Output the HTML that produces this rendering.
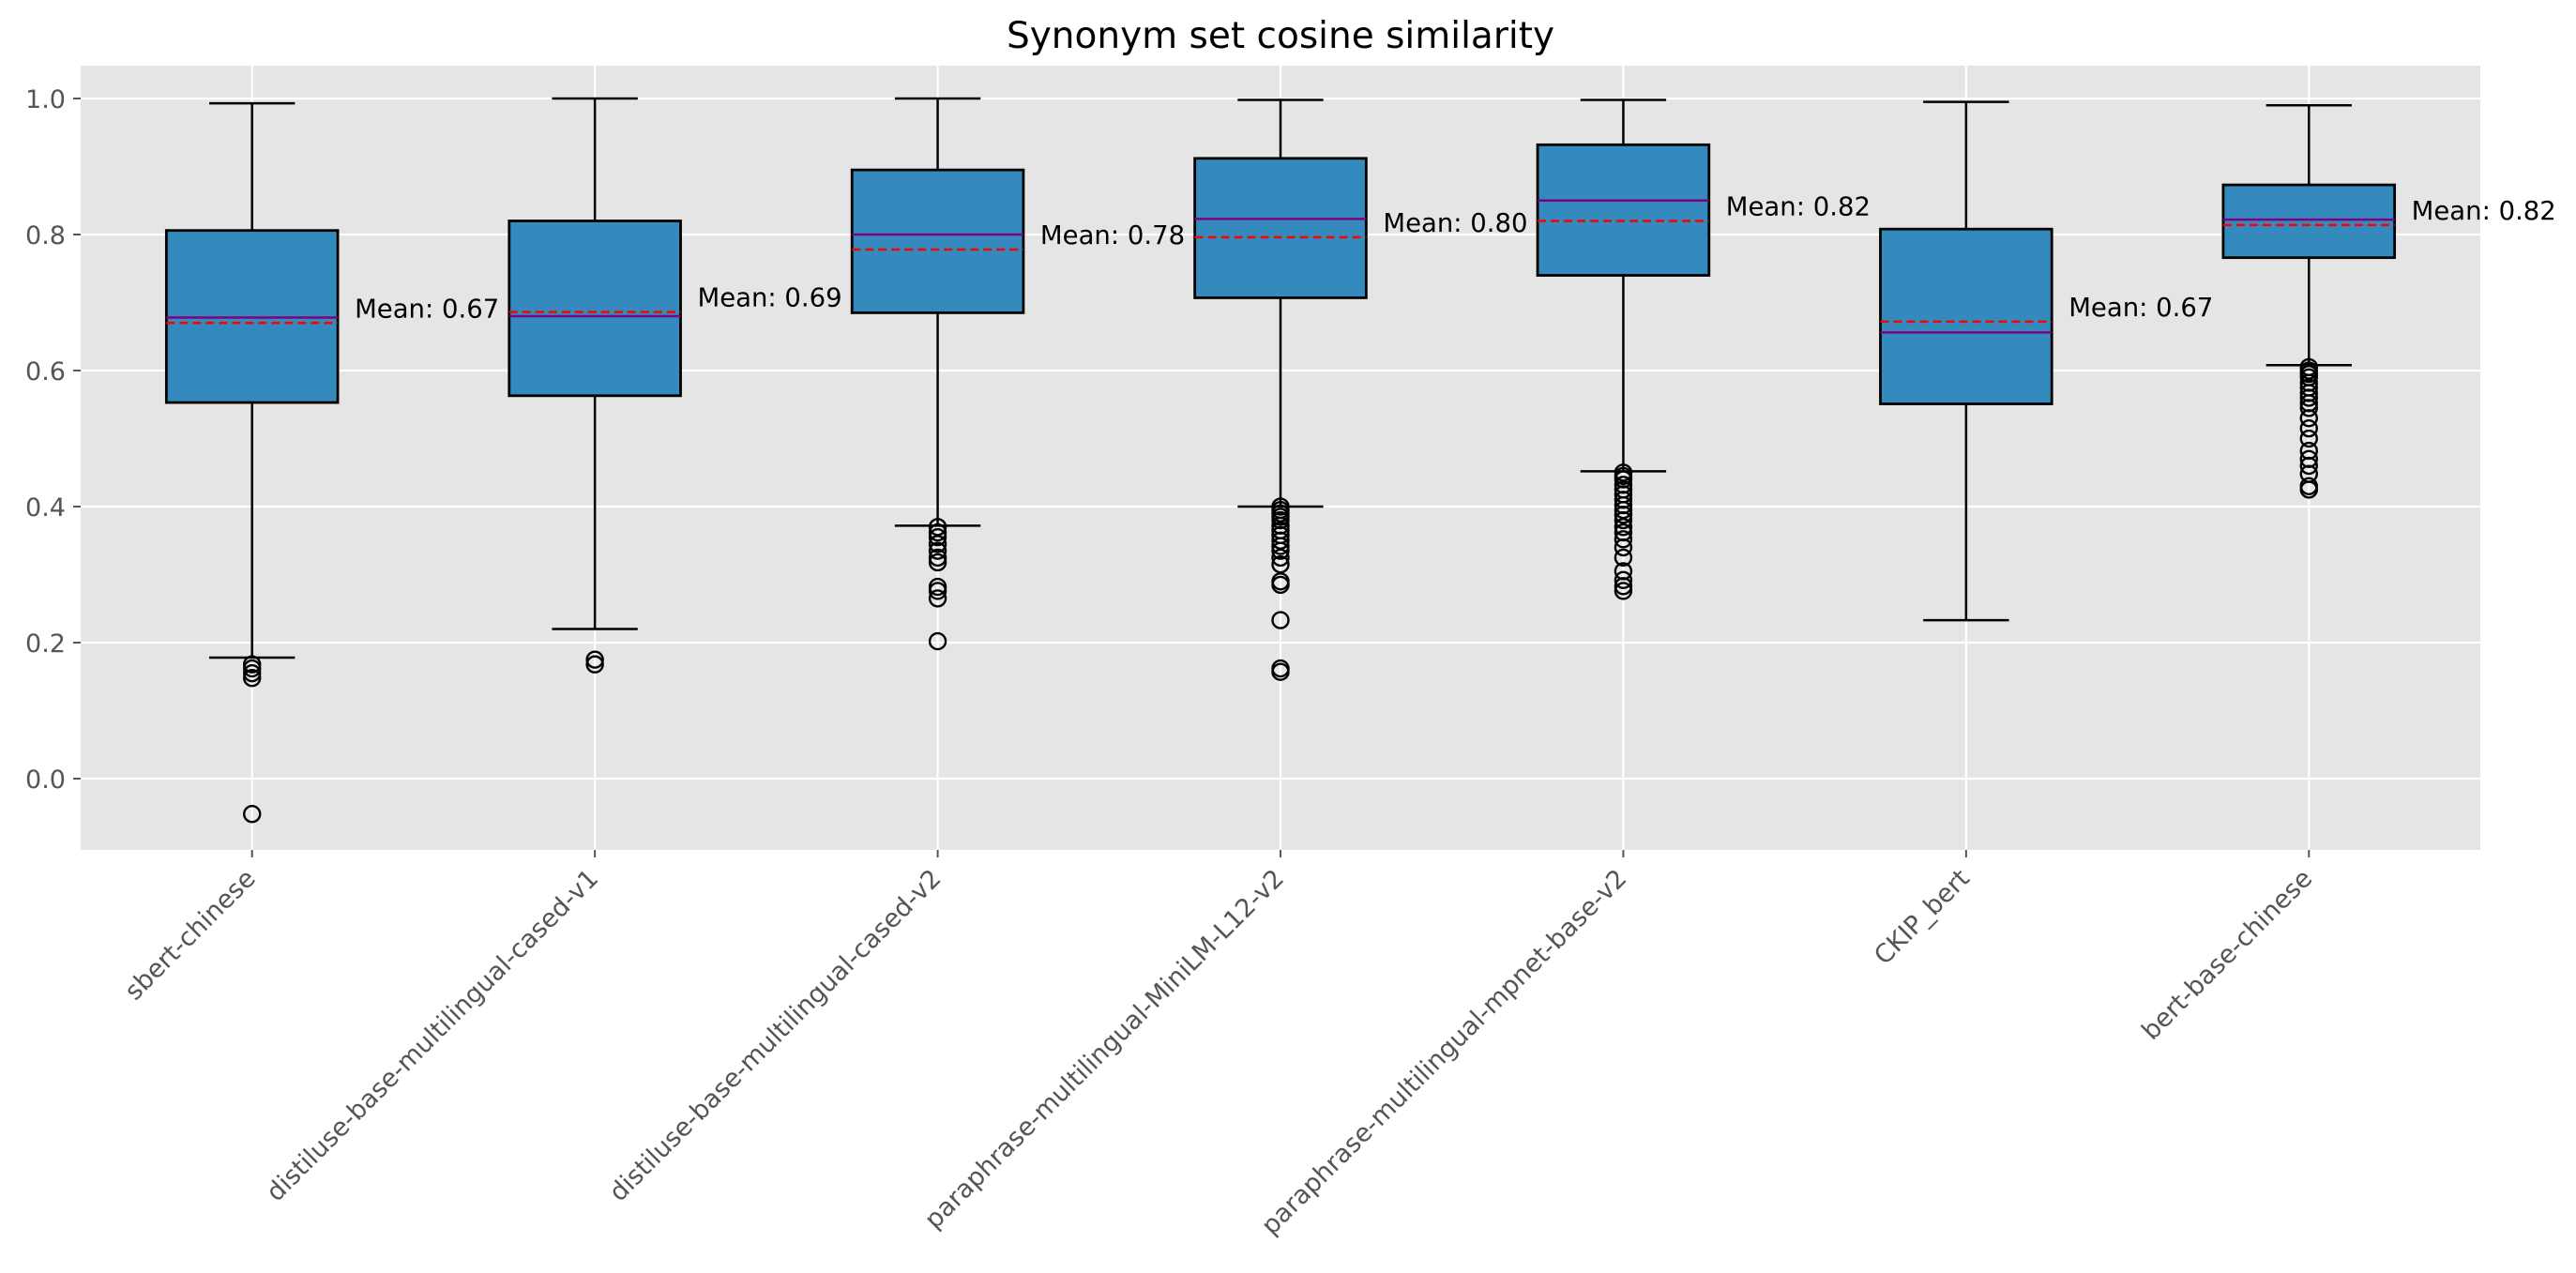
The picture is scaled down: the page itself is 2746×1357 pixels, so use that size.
<!DOCTYPE html>
<html><head><meta charset="utf-8"><style>
html,body{margin:0;padding:0;background:#fff;}
svg{display:block;font-family:"DejaVu Sans","Liberation Sans",sans-serif;}
</style></head><body>
<svg id="chart" width="2746" height="1357" viewBox="0 0 2746 1357" xmlns="http://www.w3.org/2000/svg">
<text x="1365" y="51" font-size="39" text-anchor="middle" fill="#000">Synonym set cosine similarity</text>
<g id="plot"></g>
</svg>
<script>
const categories = ["sbert-chinese","distiluse-base-multilingual-cased-v1","distiluse-base-multilingual-cased-v2","paraphrase-multilingual-MiniLM-L12-v2","paraphrase-multilingual-mpnet-base-v2","CKIP_bert","bert-base-chinese"];
const whiskerLow = [0.178,0.220,0.372,0.400,0.452,0.233,0.608];
const q1 = [0.553,0.563,0.685,0.707,0.740,0.551,0.766];
const medians = [0.678,0.680,0.800,0.823,0.850,0.656,0.822];
const means = [0.670,0.686,0.778,0.796,0.820,0.672,0.814];
const q3 = [0.806,0.820,0.895,0.912,0.932,0.808,0.873];
const whiskerHigh = [0.993,1.000,1.000,0.998,0.998,0.995,0.990];
const meanLabels = ["Mean: 0.67","Mean: 0.69","Mean: 0.78","Mean: 0.80","Mean: 0.82","Mean: 0.67","Mean: 0.82"];
const fliers = [
 [0.168,0.162,0.155,0.148,-0.052],
 [0.175,0.168],
 [0.370,0.362,0.355,0.345,0.335,0.325,0.318,0.282,0.276,0.265,0.202],
 [0.400,0.395,0.390,0.385,0.380,0.372,0.365,0.358,0.350,0.342,0.335,0.325,0.315,0.290,0.285,0.233,0.162,0.157],
 [0.450,0.445,0.440,0.432,0.425,0.418,0.410,0.402,0.395,0.388,0.380,0.370,0.362,0.352,0.340,0.325,0.305,0.292,0.283,0.276],
 [],
 [0.605,0.600,0.595,0.590,0.582,0.575,0.567,0.560,0.552,0.545,0.530,0.515,0.500,0.482,0.470,0.460,0.448,0.430,0.425]
];
const yTicks = [0.0,0.2,0.4,0.6,0.8,1.0];
const yTickLabels = ["0.0","0.2","0.4","0.6","0.8","1.0"];

const L=86,R=2644,T=70,B=906;
const yMin=-0.1048,yMax=1.0483;
const xs=i=>L+(i+0.5)*(R-L)/categories.length;
const ys=v=>B-(v-yMin)/(yMax-yMin)*(B-T);
const NS="http://www.w3.org/2000/svg";
const plot=document.getElementById('plot');
function mk(tag,attrs,parent){const e=document.createElementNS(NS,tag);for(const k in attrs)e.setAttribute(k,attrs[k]);(parent||plot).appendChild(e);return e;}

const bg=mk('rect',{x:L,y:T,width:R-L,height:B-T,fill:'#e5e5e5'});


const grid=mk('g',{});


yTicks.forEach((v,i)=>{
 mk('line',{x1:L,x2:R,y1:ys(v),y2:ys(v),stroke:'#fff','stroke-width':2.2},grid);
 mk('line',{x1:L-8,x2:L,y1:ys(v),y2:ys(v),stroke:'#555','stroke-width':2},grid);
 const t=mk('text',{x:L-16,y:ys(v)+10,'font-size':27,'text-anchor':'end',fill:'#555'});
 t.textContent=yTickLabels[i];
 
 
});
categories.forEach((c,i)=>{
 const x=xs(i);
 mk('line',{x1:x,x2:x,y1:T,y2:B,stroke:'#fff','stroke-width':2.2},grid);
 mk('line',{x1:x,x2:x,y1:B,y2:B+8,stroke:'#555','stroke-width':2},grid);
 const t=mk('text',{x:x+5,y:B+32,'font-size':27,'text-anchor':'end',fill:'#555',transform:`rotate(-45 ${x+5} ${B+32})`});
 t.textContent=c;
 
 
});
const hw=(R-L)/categories.length*0.25;
categories.forEach((c,i)=>{
 const x=xs(i);
 const g=mk('g',{});
 
 
 mk('line',{x1:x,x2:x,y1:ys(whiskerLow[i]),y2:ys(q1[i]),stroke:'#000','stroke-width':2.5},g);
 mk('line',{x1:x,x2:x,y1:ys(q3[i]),y2:ys(whiskerHigh[i]),stroke:'#000','stroke-width':2.5},g);
 mk('line',{x1:x-hw/2,x2:x+hw/2,y1:ys(whiskerLow[i]),y2:ys(whiskerLow[i]),stroke:'#000','stroke-width':2.5},g);
 mk('line',{x1:x-hw/2,x2:x+hw/2,y1:ys(whiskerHigh[i]),y2:ys(whiskerHigh[i]),stroke:'#000','stroke-width':2.5},g);
 mk('rect',{x:x-hw,y:ys(q3[i]),width:2*hw,height:ys(q1[i])-ys(q3[i]),fill:'#348abd',stroke:'#000','stroke-width':2.8},g);
 mk('line',{x1:x-hw,x2:x+hw,y1:ys(medians[i]),y2:ys(medians[i]),stroke:'#800080','stroke-width':2.5},g);
 mk('line',{x1:x-hw,x2:x+hw,y1:ys(means[i]),y2:ys(means[i]),stroke:'#ff0000','stroke-width':2.5,'stroke-dasharray':'9 5'},g);
 fliers[i].forEach(v=>{
  const f=mk('circle',{cx:x,cy:ys(v),r:8.5,fill:'none',stroke:'#000','stroke-width':2.4},g);
  
  
 });
 const t=mk('text',{x:x+hw+18,y:ys(means[i])-6,'font-size':27.5,fill:'#000'});
 t.textContent=meanLabels[i];
 
 
});
</script>
</body></html>
